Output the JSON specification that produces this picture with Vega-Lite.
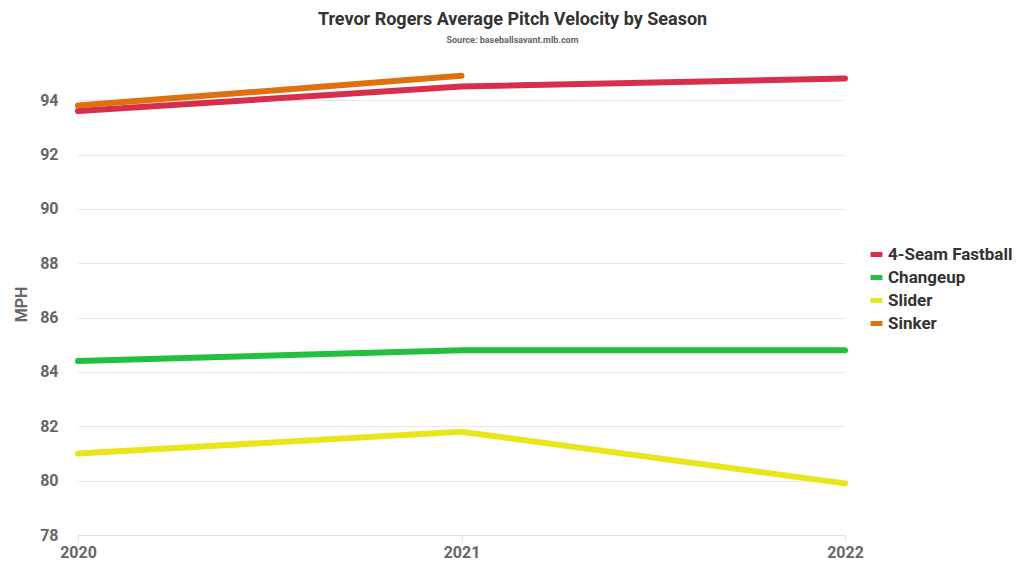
{
  "$schema": "https://vega.github.io/schema/vega-lite/v6.json",
  "width": 767,
  "height": 462,
  "autosize": {"type": "none"},
  "padding": {"left": 78, "top": 73, "right": 179, "bottom": 41},
  "background": "white",
  "title": {
    "text": "Trevor Rogers Average Pitch Velocity by Season",
    "subtitle": "Source: baseballsavant.mlb.com",
    "font": "Roboto",
    "fontSize": 18,
    "fontWeight": "bold",
    "color": "#333333",
    "subtitleFont": "Roboto",
    "subtitleFontSize": 9,
    "subtitleFontWeight": "bold",
    "subtitleColor": "#666666",
    "subtitlePadding": 7,
    "anchor": "middle",
    "dx": 51,
    "offset": 19
  },
  "config": {
    "view": {"stroke": null},
    "font": "Roboto"
  },
  "data": {
    "values": [
      {"season": "2020", "pitch": "4-Seam Fastball", "mph": 93.6},
      {"season": "2021", "pitch": "4-Seam Fastball", "mph": 94.5},
      {"season": "2022", "pitch": "4-Seam Fastball", "mph": 94.8},
      {"season": "2020", "pitch": "Changeup", "mph": 84.4},
      {"season": "2021", "pitch": "Changeup", "mph": 84.8},
      {"season": "2022", "pitch": "Changeup", "mph": 84.8},
      {"season": "2020", "pitch": "Slider", "mph": 81.0},
      {"season": "2021", "pitch": "Slider", "mph": 81.8},
      {"season": "2022", "pitch": "Slider", "mph": 79.9},
      {"season": "2020", "pitch": "Sinker", "mph": 93.8},
      {"season": "2021", "pitch": "Sinker", "mph": 94.9}
    ]
  },
  "mark": {"type": "line", "strokeWidth": 6, "strokeCap": "round"},
  "encoding": {
    "x": {
      "field": "season",
      "type": "ordinal",
      "scale": {"type": "point", "padding": 0},
      "axis": {
        "title": null,
        "labelAngle": 0,
        "labelFont": "Roboto",
        "labelFontSize": 16,
        "labelFontWeight": "bold",
        "labelColor": "#666666",
        "labelPadding": 3,
        "domainColor": "#dde0e8",
        "tickColor": "#dde0e8",
        "tickSize": 6,
        "grid": false
      }
    },
    "y": {
      "field": "mph",
      "type": "quantitative",
      "scale": {"domain": [78, 95], "nice": false, "zero": false},
      "axis": {
        "title": "MPH",
        "titleFont": "Roboto",
        "titleFontSize": 16,
        "titleFontWeight": "bold",
        "titleColor": "#666666",
        "titlePadding": 10,
        "values": [78, 80, 82, 84, 86, 88, 90, 92, 94],
        "labelFont": "Roboto",
        "labelFontSize": 16,
        "labelFontWeight": "bold",
        "labelColor": "#666666",
        "labelPadding": 20,
        "domain": false,
        "ticks": false,
        "gridColor": "#e6e6e6",
        "gridWidth": 1
      }
    },
    "color": {
      "field": "pitch",
      "type": "nominal",
      "sort": ["4-Seam Fastball", "Changeup", "Slider", "Sinker"],
      "scale": {
        "domain": ["4-Seam Fastball", "Changeup", "Slider", "Sinker"],
        "range": ["#d62e4c", "#22c03e", "#e8e61a", "#e0700f"]
      },
      "legend": {
        "title": null,
        "orient": "none",
        "legendX": 790,
        "legendY": 173,
        "symbolType": "stroke",
        "symbolStrokeWidth": 5,
        "symbolSize": 140,
        "labelFont": "Roboto",
        "labelFontSize": 17,
        "labelFontWeight": "bold",
        "labelColor": "#333333",
        "rowPadding": 2,
        "labelOffset": 3
      }
    }
  }
}
